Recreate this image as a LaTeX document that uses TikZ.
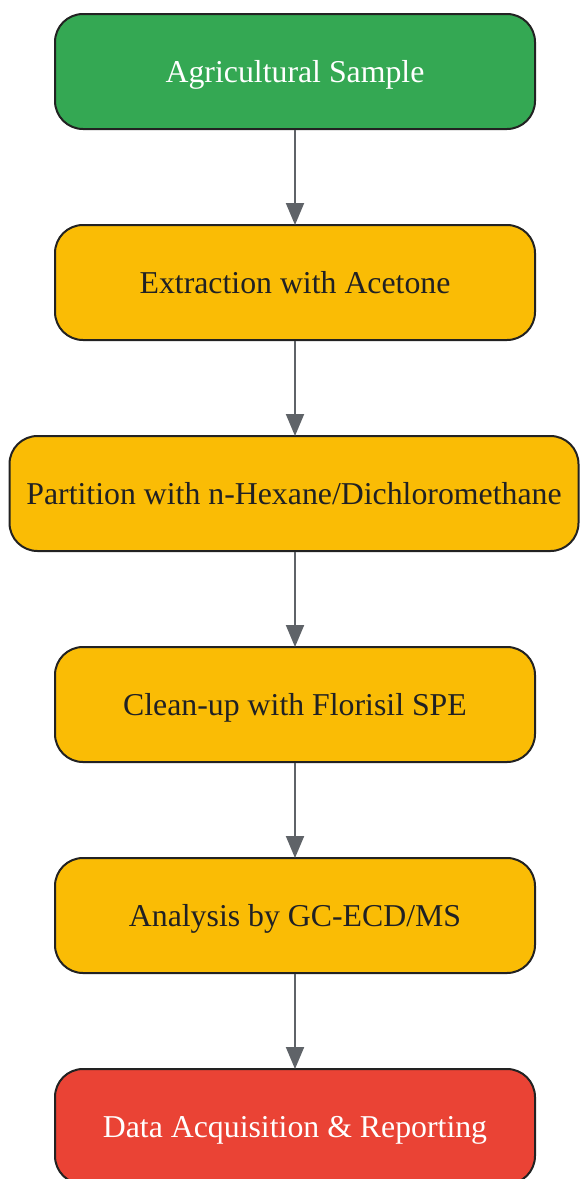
\documentclass[tikz,border=0pt]{standalone}
\usepackage{fontspec}
\setmainfont{Liberation Serif}
\usetikzlibrary{arrows.meta}
\definecolor{gGreen}{HTML}{34A853}
\definecolor{gYellow}{HTML}{FABC05}
\definecolor{gRed}{HTML}{EA4335}
\definecolor{gArrow}{HTML}{5F6368}
\definecolor{gBorder}{HTML}{222222}
\definecolor{gText}{HTML}{202124}
\begin{document}
\begin{tikzpicture}[x=1pt,y=-1pt,
  stepbox/.style={draw=gBorder,line width=2pt,rounded corners=28pt,minimum width=480pt,minimum height=115pt,inner sep=0pt,text height=21.6pt,text depth=0pt,font=\fontsize{31.8}{36}\selectfont,anchor=north},
  greenbox/.style={stepbox,fill=gGreen,text=white},
  yellowbox/.style={stepbox,fill=gYellow,text=gText},
  redbox/.style={stepbox,fill=gRed,text=white},
  conn/.style={draw=gArrow,line width=2pt,-{Triangle[length=22pt,width=18pt]}}]
\useasboundingbox (0,0) rectangle (579,1179);
\node[greenbox] (n1) at (295,13) {Agricultural Sample};
\node[yellowbox] (n2) at (295,224) {Extraction with Acetone};
\node[yellowbox,minimum width=569pt] (n3) at (294,435) {Partition with n-Hexane/Dichloromethane};
\node[yellowbox] (n4) at (295,646) {Clean-up with Florisil SPE};
\node[yellowbox] (n5) at (295,857) {Analysis by GC-ECD/MS};
\node[redbox] (n6) at (295,1068) {Data Acquisition \& Reporting};
\draw[conn] (n1.south) -- ([yshift=-1pt]n2.north);
\draw[conn] (n2.south) -- ([yshift=-1pt]n3.north -| n2.south);
\draw[conn] (n3.south -| n2.south) -- ([yshift=-1pt]n4.north);
\draw[conn] (n4.south) -- ([yshift=-1pt]n5.north);
\draw[conn] (n5.south) -- ([yshift=-1pt]n6.north);
\end{tikzpicture}
\end{document}
